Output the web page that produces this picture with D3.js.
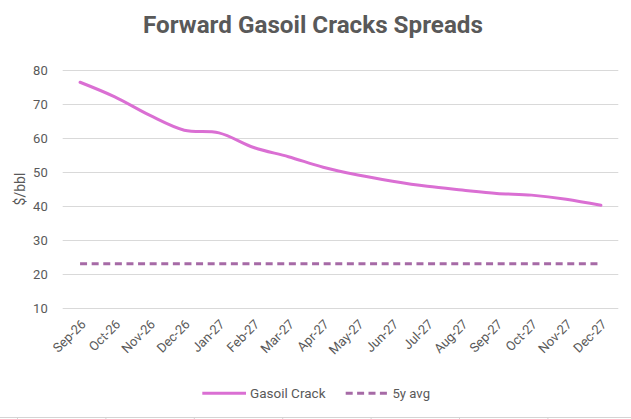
<!DOCTYPE html>
<html>
<head>
<meta charset="utf-8">
<script src="https://cdn.jsdelivr.net/npm/d3@7/dist/d3.min.js"></script>
<style>
  html, body { margin: 0; padding: 0; background: #fff; }
  svg { display: block; }
  text { font-family: Roboto, "Noto Sans", sans-serif; fill: #595959; }
</style>
</head>
<body>
<svg id="chart" width="631" height="419"></svg>
<script>
const categories = ["Sep-26","Oct-26","Nov-26","Dec-26","Jan-27","Feb-27","Mar-27","Apr-27",
                    "May-27","Jun-27","Jul-27","Aug-27","Sep-27","Oct-27","Nov-27","Dec-27"];
const gasoilCrack = [76.4, 72.1, 66.7, 62.3, 61.5, 57.2, 54.5, 51.4, 49.1, 47.3, 45.8, 44.7, 43.7, 43.2, 42.0, 40.2];
const avg5y = [23, 23, 23, 23, 23, 23, 23, 23, 23, 23, 23, 23, 23, 23, 23, 23];
const yTicks = [10, 20, 30, 40, 50, 60, 70, 80];
const titleText = "Forward Gasoil Cracks Spreads";
const yAxisTitle = "$/bbl";
const seriesNames = ["Gasoil Crack", "5y avg"];

const FONT = "Roboto, \"Noto Sans\", sans-serif";
const svg = d3.select("#chart");
const W = 631, H = 419;
const plot = { left: 62.7, right: 618.3, top: 70, bottom: 308 };

const x = d3.scalePoint().domain(categories).range([plot.left, plot.right]).padding(0.5);
const y = d3.scaleLinear().domain([10, 80]).range([plot.bottom, plot.top]);

// spreadsheet cell border remnants at bottom
const g0 = svg.append("g");
g0.append("line").attr("x1", 0).attr("x2", W).attr("y1", 417.5).attr("y2", 417.5)
  .attr("stroke", "#d4d4d4").attr("stroke-width", 1);
d3.range(17.5, W, 88.4).forEach(xx => {
  g0.append("line").attr("x1", xx).attr("x2", xx).attr("y1", 417.5).attr("y2", 419)
    .attr("stroke", "#d4d4d4").attr("stroke-width", 1);
});

// Title
const title = svg.append("text").attr("x", 313).attr("y", 33)
  .attr("text-anchor", "middle").attr("font-weight", "bold")
  .attr("font-size", 24).text(titleText);
const tw = title.node().getComputedTextLength();
title.attr("font-size", 24 * 340 / tw);

// Gridlines + y labels
const yAxis = d3.axisLeft(y).tickValues(yTicks).tickSize(-(plot.right - plot.left)).tickPadding(15);
const gy = svg.append("g").attr("transform", `translate(${plot.left},0)`).call(yAxis);
gy.select(".domain").remove();
gy.selectAll(".tick line").attr("stroke", "#d9d9d9").attr("stroke-width", 1);
gy.selectAll(".tick text").attr("font-size", 13).attr("fill", "#595959").attr("font-family", FONT);

// X labels
const xAxis = d3.axisBottom(x).tickSize(0).tickPadding(0);
const gx = svg.append("g").attr("transform", `translate(0,${plot.bottom})`).call(xAxis);
gx.select(".domain").remove();
gx.selectAll(".tick text")
  .attr("font-size", 13).attr("fill", "#595959").attr("font-family", FONT)
  .attr("text-anchor", "end")
  .attr("dy", 0)
  .attr("transform", "translate(6,17) rotate(-45)");

// Y axis title
svg.append("text").attr("transform", `translate(25,${(plot.top + plot.bottom) / 2}) rotate(-90)`)
  .attr("text-anchor", "middle").attr("font-size", 14).text(yAxisTitle);

// Lines
const line = d3.line().x((d, i) => x(categories[i])).y(d => y(d)).curve(d3.curveCatmullRom.alpha(0.5));
svg.append("path").datum(avg5y).attr("d", d3.line().x((d, i) => x(categories[i])).y(d => y(d)))
  .attr("fill", "none").attr("stroke", "#a66aa6").attr("stroke-width", 3)
  .attr("stroke-dasharray", "7,4.6");
svg.append("path").datum(gasoilCrack).attr("d", line)
  .attr("fill", "none").attr("stroke", "#da6fd3").attr("stroke-width", 3)
  .attr("stroke-linecap", "round");

// Legend
const lg = svg.append("g");
lg.append("line").attr("x1", 202.3).attr("x2", 246).attr("y1", 393.3).attr("y2", 393.3)
  .attr("stroke", "#da6fd3").attr("stroke-width", 3);
const t1 = lg.append("text").attr("x", 250).attr("y", 398).attr("font-size", 13.5).text(seriesNames[0]);
lg.append("line").attr("x1", 345.7).attr("x2", 389).attr("y1", 393.3).attr("y2", 393.3)
  .attr("stroke", "#a66aa6").attr("stroke-width", 3).attr("stroke-dasharray", "7,4.4");
const t2 = lg.append("text").attr("x", 392.5).attr("y", 398).attr("font-size", 13.5).text(seriesNames[1]);
// fit legend labels to measured widths
[[t1, 76.7], [t2, 37.5]].forEach(([t, w]) => {
  const cw = t.node().getComputedTextLength();
  if (cw > w) t.attr("textLength", w).attr("lengthAdjust", "spacingAndGlyphs");
});
</script>
</body>
</html>
